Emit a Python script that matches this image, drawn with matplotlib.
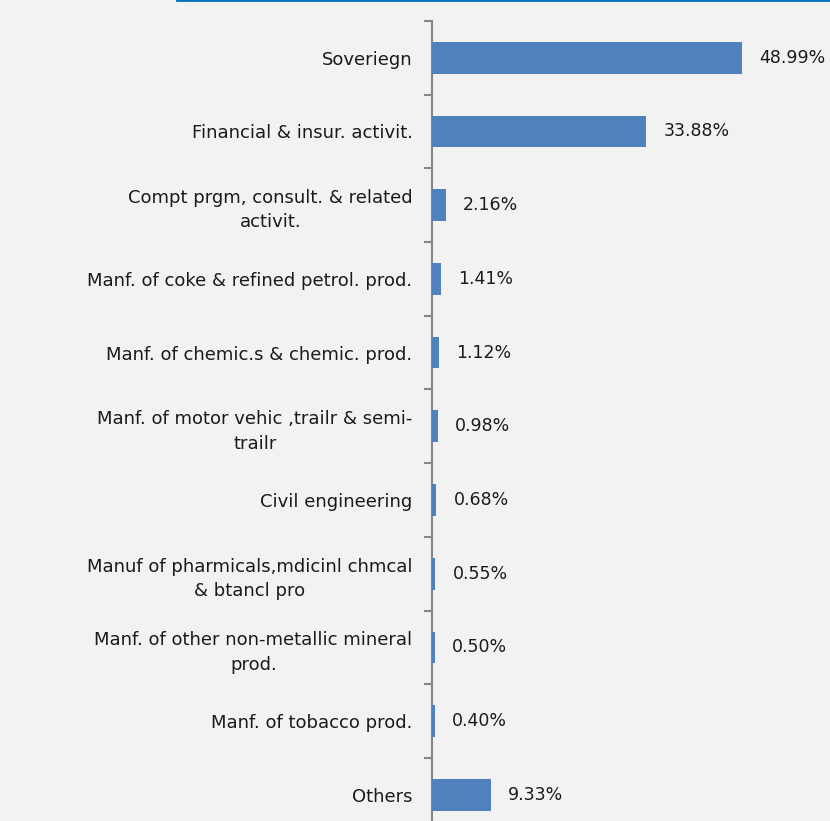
import matplotlib
matplotlib.use("Agg")
import matplotlib.pyplot as plt
from matplotlib.lines import Line2D
import numpy as np

plt.rcParams["font.family"] = ["DejaVu Sans"]

# ── Data ──────────────────────────────────────────────────────────────────────
sectors = [
    "Soveriegn",
    "Financial & insur. activit.",
    "Compt prgm, consult. & related\nactivit.",
    "Manf. of coke & refined petrol. prod.",
    "Manf. of chemic.s & chemic. prod.",
    "Manf. of motor vehic ,trailr & semi-\ntrailr",
    "Civil engineering",
    "Manuf of pharmicals,mdicinl chmcal\n& btancl pro",
    "Manf. of other non-metallic mineral\nprod.",
    "Manf. of tobacco prod.",
    "Others",
]
shares = [48.99, 33.88, 2.16, 1.41, 1.12, 0.98, 0.68, 0.55, 0.50, 0.40, 9.33]

BG = "#f2f2f2"
BAR = "#4f81bd"
AXIS = "#868686"
TXT = "#1a1a1a"

# ── Figure ────────────────────────────────────────────────────────────────────
fig = plt.figure(figsize=(8.3, 8.21), dpi=100, facecolor=BG)
ax = fig.add_axes([0.5205, -0.013, 0.4795, 0.9875])
ax.set_facecolor(BG)

y = np.arange(len(sectors))
ax.barh(y, shares, height=0.43, color=BAR, zorder=3)

for yi, v in zip(y, shares):
    ax.text(v + 2.7, yi, f"{v:.2f}%", va="center", ha="left",
            fontsize=12.5, color=TXT)

ax.set_ylim(len(sectors) - 0.5, -0.5)
ax.set_xlim(0, 62.9)

# category boundary ticks
ax.set_yticks(np.arange(len(sectors) + 1) - 0.5)
ax.set_yticklabels([])
ax.set_yticks(y, minor=True)
ax.set_yticklabels(sectors, minor=True, fontsize=13, color=TXT,
                   multialignment="center", linespacing=1.45)
ax.tick_params(axis="y", which="major", length=6, width=1.5, color=AXIS,
               direction="out")
ax.tick_params(axis="y", which="minor", length=0, pad=14)

ax.set_xticks([])
for s in ["top", "right", "bottom"]:
    ax.spines[s].set_visible(False)
ax.spines["left"].set_color(AXIS)
ax.spines["left"].set_linewidth(1.5)

# blue rule at top of page
fig.add_artist(Line2D([0.213, 1.0], [0.9995, 0.9995], transform=fig.transFigure,
                      color="#0070c0", lw=2))

fig.savefig("out.png", dpi=100, facecolor=BG)
